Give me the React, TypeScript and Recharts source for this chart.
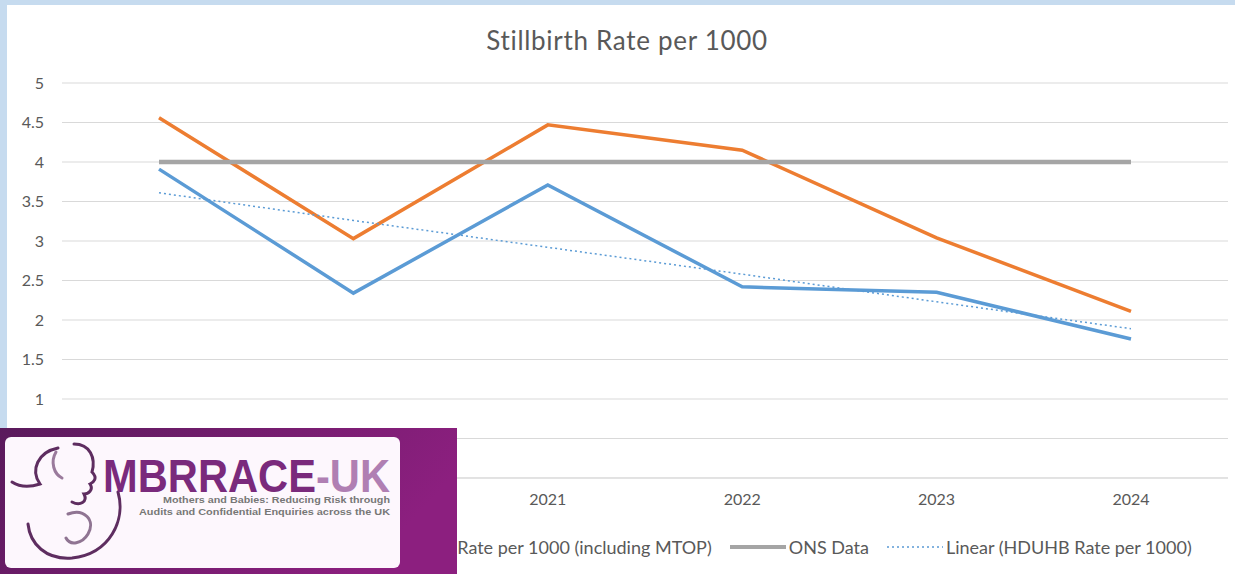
import { LineChart, Line, XAxis, YAxis, CartesianGrid } from "recharts";

const years = ["2019", "2020", "2021", "2022", "2023", "2024"];
const hduhbRate = [3.91, 2.34, 3.71, 2.42, 2.35, 1.76];
const hduhbMtopRate = [4.56, 3.03, 4.47, 4.15, 3.04, 2.11];
const onsRate = [4, 4, 4, 4, 4, 4];
// linear trendline of the HDUHB rate
const hduhbTrend = [3.61, 3.26, 2.92, 2.58, 2.23, 1.89];
const yTicks = [0, 0.5, 1, 1.5, 2, 2.5, 3, 3.5, 4, 4.5, 5];

const FONT = "Lato, 'Open Sans', sans-serif";
const TEXT = "#595959";

const series = [
  { key: "hduhb", name: "HDUHB Rate per 1000", color: "#5b9bd5", width: 3.5, dash: undefined as string | undefined },
  { key: "mtop", name: "HDUHB Rate per 1000 (including MTOP)", color: "#ed7d31", width: 3.5, dash: undefined },
  { key: "ons", name: "ONS Data", color: "#a5a5a5", width: 4.5, dash: undefined },
  { key: "trend", name: "Linear (HDUHB Rate per 1000)", color: "#5b9bd5", width: 1.5, dash: "2 3" },
];

const data = years.map((year, i) => ({
  year,
  hduhb: hduhbRate[i],
  mtop: hduhbMtopRate[i],
  ons: onsRate[i],
  trend: hduhbTrend[i],
}));

function ChartLegend() {
  return (
    <div
      style={{
        position: "absolute",
        top: 535,
        left: 12,
        width: 1235,
        height: 24,
        display: "flex",
        justifyContent: "center",
        alignItems: "center",
        gap: 18,
        fontFamily: FONT,
        fontSize: 18,
        color: TEXT,
      }}
    >
      {series.map((s) => (
        <div key={s.key} style={{ display: "flex", alignItems: "center", gap: 3, whiteSpace: "nowrap" }}>
          <svg width={56} height={10}>
            <line x1={0} y1={5} x2={56} y2={5} stroke={s.color} strokeWidth={s.dash ? 1.6 : 4} strokeDasharray={s.dash} />
          </svg>
          <span>{s.name}</span>
        </div>
      ))}
    </div>
  );
}

function Logo() {
  return (
    <svg width={457} height={146} style={{ position: "absolute", left: 0, top: 428 }}>
      <defs>
        <linearGradient id="logoBg" x1="0" y1="0" x2="1" y2="0.3">
          <stop offset="0%" stopColor="#5a1a5c" />
          <stop offset="100%" stopColor="#8c1f7f" />
        </linearGradient>
      </defs>
      <rect x={0} y={0} width={457} height={146} fill="url(#logoBg)" />
      <rect x={5} y={9} width={395} height={131} rx={6} fill="#fdf7fd" />
      <g fill="none" stroke="#5e2d60" strokeWidth={3} strokeLinecap="round">
        <path d="M58 20 C38 24 30 42 40 56 C28 60 18 58 12 54" />
        <path d="M74 16 C90 16 96 30 92 44 C98 50 94 54 90 56 C94 62 88 66 84 66 C88 74 80 78 72 74" />
        <path d="M56 24 C50 34 54 46 62 50" stroke="#9a7a9c" />
        <path d="M118 64 C126 92 110 126 72 130 C46 132 30 116 28 96" />
        <path d="M68 86 C84 80 96 92 88 106 C82 116 70 118 66 110" stroke="#8f7492" />
      </g>
      <text x={103} y={64} fontFamily="'Liberation Sans', Arial, sans-serif" fontWeight={900} fontSize={46} textLength={287} lengthAdjust="spacingAndGlyphs">
        <tspan fill="#7a2a7c">MBRRACE</tspan>
        <tspan fill="#b07fb3">-UK</tspan>
      </text>
      <text x={163} y={75} fontFamily="'Liberation Sans', Arial, sans-serif" fontWeight={700} fontSize={9.5} fill="#777" textLength={227} lengthAdjust="spacingAndGlyphs">
        Mothers and Babies: Reducing Risk through
      </text>
      <text x={139} y={87} fontFamily="'Liberation Sans', Arial, sans-serif" fontWeight={700} fontSize={9.5} fill="#777" textLength={251} lengthAdjust="spacingAndGlyphs">
        Audits and Confidential Enquiries across the UK
      </text>
    </svg>
  );
}

export default function App() {
  return (
    <div style={{ position: "absolute", top: 0, left: 0, width: 1235, height: 574, background: "#ffffff", overflow: "hidden" }}>
      <div style={{ position: "absolute", top: 0, left: 0, width: 1235, height: 5, background: "#c6dbef" }} />
      <div style={{ position: "absolute", top: 0, left: 0, width: 7, height: 574, background: "#c6dbef" }} />
      <div
        style={{
          position: "absolute",
          top: 24,
          left: 627,
          transform: "translateX(-50%)",
          fontFamily: FONT,
          fontSize: 26,
          letterSpacing: 0.7,
          color: TEXT,
          whiteSpace: "nowrap",
        }}
      >
        Stillbirth Rate per 1000
      </div>
      <LineChart width={1235} height={574} data={data} margin={{ top: 83, right: 7, bottom: 0, left: 0 }} style={{ position: "absolute", top: 0, left: 0 }}>
        <CartesianGrid stroke="#d9d9d9" vertical={false} />
        <XAxis
          dataKey="year"
          height={96}
          padding={{ left: 97, right: 97 }}
          tickLine={false}
          axisLine={{ stroke: "#d9d9d9" }}
          tickMargin={10}
          tick={{ fill: TEXT, fontSize: 16, fontFamily: FONT }}
        />
        <YAxis
          domain={[0, 5]}
          ticks={yTicks}
          width={62}
          tickLine={false}
          axisLine={false}
          tickMargin={12}
          tick={{ fill: TEXT, fontSize: 16, fontFamily: FONT }}
        />
        {series.map((s) => (
          <Line
            key={s.key}
            type="linear"
            dataKey={s.key}
            name={s.name}
            stroke={s.color}
            strokeWidth={s.width}
            strokeDasharray={s.dash}
            dot={false}
            activeDot={false}
            isAnimationActive={false}
          />
        ))}
      </LineChart>
      <ChartLegend />
      <Logo />
    </div>
  );
}
